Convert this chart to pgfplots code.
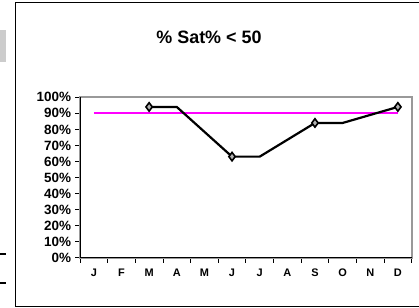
\documentclass[border=0pt]{standalone}
\usepackage{fontspec}
\setmainfont{Liberation Sans}
\usepackage{pgfplots}
\pgfplotsset{compat=1.18}
\definecolor{mag}{RGB}{255,0,255}
\begin{document}
\begin{tikzpicture}[x=1bp,y=1bp]
\useasboundingbox (0,0) rectangle (419,308);
% outer chart frame
\draw[black, line width=0.9bp] (430,306) -- (15,306) -- (15,1.5) -- (430,1.5);
% fragments of neighbouring chart on the left
\fill[gray!40] (0,246) rectangle (6,278);
\draw[black, line width=1.5bp] (0,54) -- (6,54);
\draw[black, line width=1.5bp] (0,25) -- (6,25);
% title
\node[font=\fontsize{18}{18}\selectfont\bfseries] at (209,270.5) {\% Sat\% < 50};
\begin{axis}[
  at={(80bp,50.3bp)}, anchor=south west,
  scale only axis, width=331.7bp, height=160.4bp,
  xmin=0.5, xmax=12.5, ymin=0, ymax=100,
  clip=false,
  xtick={0.5,1.5,...,12.5},
  xticklabels={J,F,M,A,M,J,J,A,S,O,N,D,{}},
  xticklabel style={xshift=13.82bp, yshift=-3bp, font=\fontsize{11}{11}\selectfont\bfseries},
  ytick={0,10,...,100},
  yticklabel={\pgfmathprintnumber{\tick}\%},
  yticklabel style={font=\fontsize{13.5}{13.5}\selectfont\bfseries, xshift=-0.5bp},
  /pgf/number format/assume math mode=true,
  tick align=outside,
  xtick pos=bottom, ytick pos=left,
  major tick length=5bp,
  tick style={black, line width=0.8bp},
  axis line style={draw=gray!80, line width=1.8bp},
]
\addplot[mag, line width=2bp] coordinates {(1,90) (12,90)};
\addplot[black, line width=2.2bp, mark=diamond*, mark size=4.2bp,
  mark options={fill=gray!60, draw=black, line width=1.6bp, solid},
  mark indices={1,3,5,7}]
  coordinates {(3,94) (4,94) (6,63) (7,63) (9,84) (10,84) (12,94)};
\draw[black, line width=1bp] (rel axis cs:0,1) -- (rel axis cs:0,0) -- (rel axis cs:1,0);
\end{axis}
\end{tikzpicture}
\end{document}
